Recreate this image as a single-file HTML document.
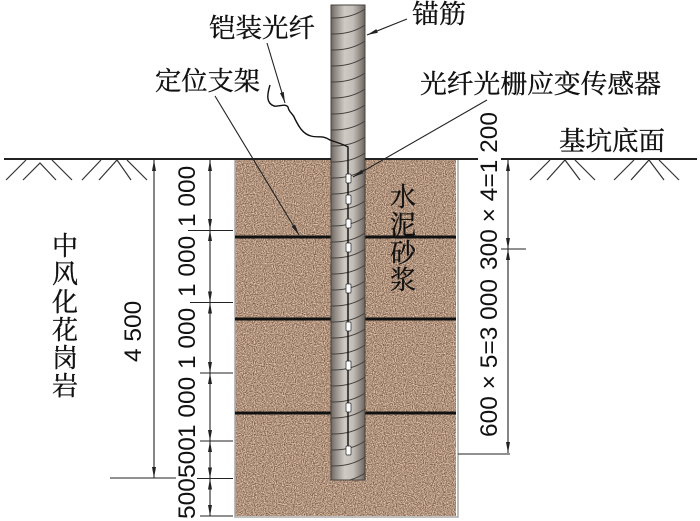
<!DOCTYPE html>
<html lang="zh">
<head>
<meta charset="utf-8">
<style>
html,body{margin:0;padding:0;background:#fff}
svg{display:block}
.cn{font-family:"Liberation Serif","Noto Serif CJK SC",serif;font-size:26px;fill:#111;stroke:#111;stroke-width:.35}
.num{font-family:"Liberation Sans",sans-serif;font-size:24.5px;fill:#111}
</style>
</head>
<body>
<svg width="700" height="521" viewBox="0 0 700 521" xmlns="http://www.w3.org/2000/svg">
<defs>
<filter id="sand" x="0" y="0" width="100%" height="100%" color-interpolation-filters="sRGB">
<feTurbulence type="fractalNoise" baseFrequency="0.9" numOctaves="1" seed="4" result="n"/>
<feColorMatrix in="n" type="matrix" values="1.0 0 0 0 0.19  0.95 0 0 0 0.1  0.9 0 0 0 0.04  0 0 0 0 1"/>
</filter>
<linearGradient id="steel" x1="0" x2="1" y1="0" y2="0">
<stop offset="0" stop-color="#6d6661"/>
<stop offset=".12" stop-color="#8f8882"/>
<stop offset=".4" stop-color="#d0cac4"/>
<stop offset=".65" stop-color="#c4beb8"/>
<stop offset=".9" stop-color="#878079"/>
<stop offset="1" stop-color="#68625d"/>
</linearGradient>
<pattern id="helix" x="331" y="6" width="34" height="16" patternUnits="userSpaceOnUse">
<path d="M0,12 Q20,12.5 34,3" fill="none" stroke="#45413d" stroke-width="1"/>
</pattern>
<marker id="ar" markerWidth="12" markerHeight="6" refX="11" refY="3" orient="auto-start-reverse" markerUnits="userSpaceOnUse">
<path d="M0,1 L11,3 L0,5 Z" fill="#222"/>
</marker>
</defs>

<rect x="235" y="159" width="221" height="357" fill="#a68b72" filter="url(#sand)"/>
<path d="M235,159V517H458V159" fill="none" stroke="#a9a9a9" stroke-width="1.5"/>

<g stroke="#111" stroke-width="3">
<path d="M235,237H331M365,237H456M235,319H331M365,319H456M235,413H331M365,413H456"/>
</g>

<rect x="331" y="5" width="34" height="475" fill="url(#steel)"/>
<rect x="331" y="5" width="34" height="475" fill="url(#helix)"/>
<rect x="331" y="5" width="34" height="475" fill="none" stroke="#48433f" stroke-width="1"/>

<path d="M4,159H235" stroke="#222" stroke-width="2"/>
<path d="M235,159H331M365,159H478M501,159H697" stroke="#222" stroke-width="2" fill="none"/>

<g stroke="#333" stroke-width="1.2" fill="none">
<path d="M6,180L26,160M23,180L40,163L56,180M52,160L72,180"/>
<path d="M82,180L101,160M99,180L117,160L131,180M127,160L147,180"/>
<path d="M530,180L550,160M547,180L565,160L580,180M575,160L595,180"/>
<path d="M614,180L634,160M631,180L649,160L664,180M659,160L679,180"/>
</g>

<path d="M270,85C267,95 266,103 274,106C280,107 285,103 288,107C289,113 293,113 295,119C299,127 303,134 311,136C318,138 323,135 330,140C338,143 343,144 348,147V450" fill="none" stroke="#111" stroke-width="1.4"/>
<g fill="#fff" stroke="#222" stroke-width=".7">
<rect x="346" y="174" width="5" height="9" rx="1"/>
<rect x="346" y="195" width="5" height="9" rx="1"/>
<rect x="346" y="219" width="5" height="9" rx="1"/>
<rect x="346" y="243" width="5" height="9" rx="1"/>
<rect x="346" y="284" width="5" height="9" rx="1"/>
<rect x="346" y="322" width="5" height="9" rx="1"/>
<rect x="346" y="361" width="5" height="9" rx="1"/>
<rect x="346" y="403" width="5" height="9" rx="1"/>
<rect x="346" y="446" width="5" height="9" rx="1"/>
</g>

<g stroke="#222" stroke-width="1.1" fill="none">
<path d="M267,43L285,103" marker-end="url(#ar)"/>
<path d="M215,96L299,235" marker-end="url(#ar)"/>
<path d="M407,19L367,35" marker-end="url(#ar)"/>
<path d="M487,100L353,177" marker-end="url(#ar)"/>

<path d="M154,160V478" marker-start="url(#ar)" marker-end="url(#ar)"/>
<path d="M210,160V230" marker-start="url(#ar)" marker-end="url(#ar)"/>
<path d="M210,230V302.5" marker-start="url(#ar)" marker-end="url(#ar)"/>
<path d="M210,302.5V373" marker-start="url(#ar)" marker-end="url(#ar)"/>
<path d="M210,373V441" marker-start="url(#ar)" marker-end="url(#ar)"/>
<path d="M210,441V478.5" marker-start="url(#ar)" marker-end="url(#ar)"/>
<path d="M210,478.5V516" marker-start="url(#ar)" marker-end="url(#ar)"/>
<path d="M508,160V249" marker-start="url(#ar)" marker-end="url(#ar)"/>
<path d="M508,249V453" marker-start="url(#ar)" marker-end="url(#ar)"/>

<path d="M188,230.5H233M190,302.5H233M200,373H233M200,441H233M110,478H176M197,478.5H233M200,516H233M501,249H526M458,454H510"/>
</g>

<text class="cn" x="209" y="37" textLength="106" lengthAdjust="spacingAndGlyphs">铠装光纤</text>
<text class="cn" x="412" y="23" textLength="54" lengthAdjust="spacingAndGlyphs">锚筋</text>
<text class="cn" x="155" y="90" textLength="105" lengthAdjust="spacingAndGlyphs">定位支架</text>
<text class="cn" x="420" y="93" textLength="241" lengthAdjust="spacingAndGlyphs">光纤光栅应变传感器</text>
<text class="cn" x="559" y="150" textLength="106" lengthAdjust="spacingAndGlyphs">基坑底面</text>

<g class="cn" text-anchor="middle">
<text x="403" y="206">水</text>
<text x="403" y="234">泥</text>
<text x="403" y="262">砂</text>
<text x="403" y="289">浆</text>
<text x="65" y="255">中</text>
<text x="65" y="283">风</text>
<text x="65" y="311">化</text>
<text x="65" y="339">花</text>
<text x="65" y="367">岗</text>
<text x="65" y="395">岩</text>
</g>

<g class="num">
<text transform="translate(195,227) rotate(-90)">1 000</text>
<text transform="translate(195,297) rotate(-90)">1 000</text>
<text transform="translate(195,369) rotate(-90)">1 000</text>
<text transform="translate(195,438) rotate(-90)">1 000</text>
<text transform="translate(195,478) rotate(-90)">500</text>
<text transform="translate(195,519) rotate(-90)">500</text>
<text transform="translate(141,362) rotate(-90)">4 500</text>
<text transform="translate(497,437) rotate(-90)">600 × 5=3 000</text>
<text transform="translate(497,270) rotate(-90)">300 × 4=1 200</text>
</g>
</svg>
</body>
</html>
